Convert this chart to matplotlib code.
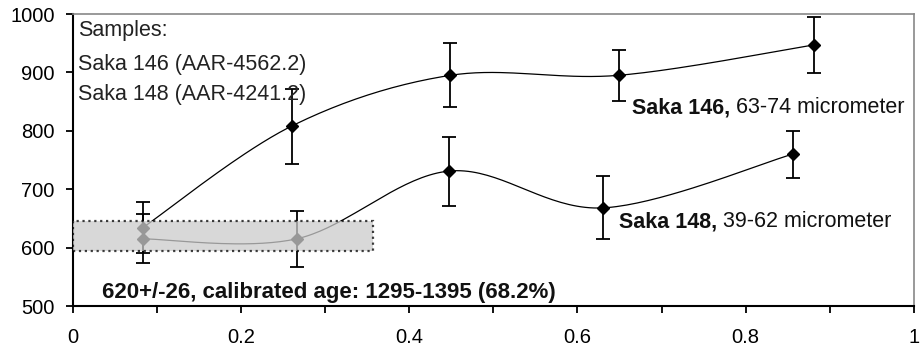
import numpy as np
import matplotlib
matplotlib.use("Agg")
import matplotlib.pyplot as plt
from matplotlib.patches import Rectangle

plt.rcParams['font.family'] = ['Liberation Sans', 'DejaVu Sans']

# Data
x146 = [0.083, 0.260, 0.449, 0.649, 0.881]
y146 = [634, 808, 895, 895, 947]
e146 = [44, 64, 55, 44, 48]

x148 = [0.083, 0.266, 0.447, 0.630, 0.856]
y148 = [615, 615, 731, 668, 760]
e148 = [42, 48, 59, 54, 40]

cal_age = 620
cal_err = 26
box_xmax = 0.357

sample_lines = ["Samples:", "Saka 146 (AAR-4562.2)", "Saka 148 (AAR-4241.2)"]

fig = plt.figure(figsize=(9.23, 3.5), dpi=100)
ax = fig.add_axes([0.079, 0.1257, 0.911, 0.8343])
ax.set_xlim(0, 1)
ax.set_ylim(500, 1000)

W, H = 841.0, 292.0  # axes size in px for smoothing


def smooth(xs, ys, n=40):
    # Catmull-Rom style smoothing (like a spreadsheet "smoothed line")
    px = np.array(xs) * W
    py = (np.array(ys) - 500) / 500 * H
    P = np.column_stack([px, py])
    out = []
    m = len(P)
    for i in range(m - 1):
        p0 = P[i - 1] if i > 0 else P[i]
        p1 = P[i]
        p2 = P[i + 1]
        p3 = P[i + 2] if i + 2 < m else P[i + 1]
        c1 = p1 + (p2 - p0) / 6.0
        c2 = p2 - (p3 - p1) / 6.0
        t = np.linspace(0, 1, n)[:, None]
        seg = ((1 - t) ** 3) * p1 + 3 * ((1 - t) ** 2) * t * c1 + 3 * (1 - t) * t ** 2 * c2 + t ** 3 * p2
        out.append(seg)
    S = np.vstack(out)
    return S[:, 0] / W, S[:, 1] / H * 500 + 500


for xs, ys, es in [(x146, y146, e146), (x148, y148, e148)]:
    sx, sy = smooth(xs, ys)
    ax.plot(sx, sy, color='black', lw=0.9, zorder=2)
    ax.errorbar(xs, ys, yerr=es, fmt='D', color='black', ms=6, capsize=5,
                elinewidth=1.3, capthick=1.3, zorder=3)

# calibrated age box
rect = Rectangle((0, cal_age - cal_err), box_xmax, 2 * cal_err,
                 facecolor='#cccccc', alpha=0.75, edgecolor='black',
                 linestyle=':', lw=1.6, zorder=4)
ax.add_patch(rect)

# Texts
ys_txt = [962, 904, 853]
for s, yy in zip(sample_lines, ys_txt):
    ax.text(0.006, yy, s, fontsize=15.5, color='#222222', va='baseline', ha='left', zorder=5)

fs_lab = 15.5
t1 = ax.text(0.665, 830, "Saka 146,", fontsize=fs_lab, fontweight='bold', va='baseline', ha='left', color='#111111')
ax.annotate(" 63-74 micrometer", xy=(1, 0), xycoords=t1, va='bottom', ha='left',
            fontsize=fs_lab, color='#111111')
t2 = ax.text(0.649, 635, "Saka 148,", fontsize=fs_lab, fontweight='bold', va='baseline', ha='left', color='#111111')
ax.annotate(" 39-62 micrometer", xy=(1, 0), xycoords=t2, va='bottom', ha='left',
            fontsize=fs_lab, color='#111111')

ax.text(0.0345, 514, "620+/-26, calibrated age: 1295-1395 (68.2%)", fontsize=16,
        fontweight='bold', va='baseline', ha='left', color='#111111', zorder=5)

# Axes styling
ax.set_yticks(np.arange(500, 1001, 100))
ax.set_xticks([0, 0.2, 0.4, 0.6, 0.8, 1])
ax.set_xticklabels(['0', '0.2', '0.4', '0.6', '0.8', '1'])
ax.set_xticks([0.1, 0.3, 0.5, 0.7, 0.9], minor=True)
ax.tick_params(axis='x', which='both', direction='out', length=5, width=1.3, pad=11, labelsize=14.5)
ax.tick_params(axis='y', direction='out', length=5, width=1.3, pad=8, labelsize=14.5)
for side in ['left', 'bottom']:
    ax.spines[side].set_color('black')
    ax.spines[side].set_linewidth(1.5)
for side in ['top', 'right']:
    ax.spines[side].set_color('#888888')
    ax.spines[side].set_linewidth(1.2)

fig.savefig("out.png", dpi=100)
